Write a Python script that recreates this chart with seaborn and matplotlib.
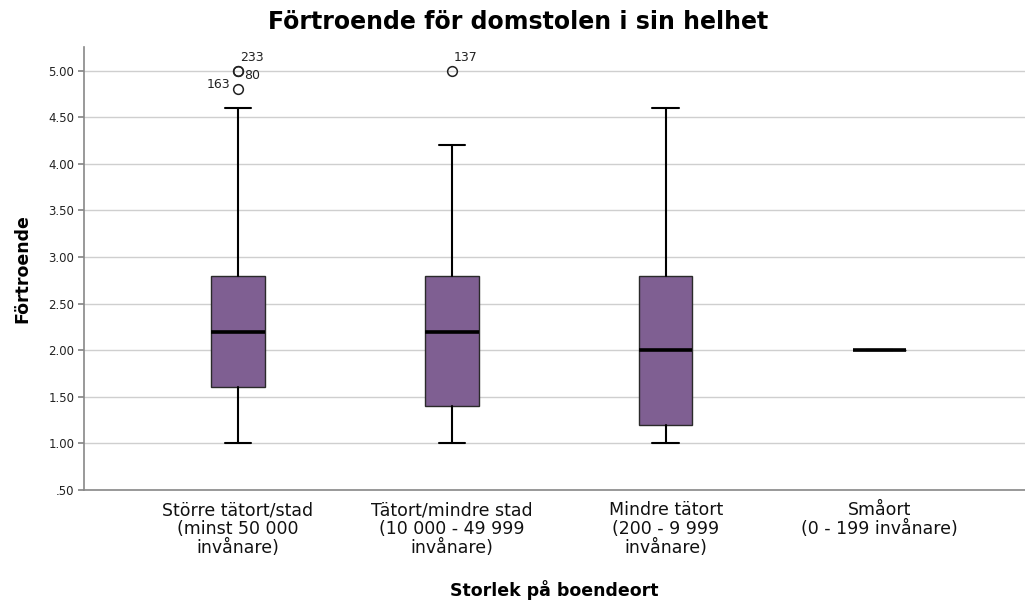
import matplotlib
matplotlib.use("Agg")
import matplotlib.pyplot as plt
import seaborn as sns
from matplotlib.ticker import FixedLocator, FixedFormatter

# Data: summary statistics
categories = [
    "Större tätort/stad\n(minst 50 000\ninvånare)",
    "Tätort/mindre stad\n(10 000 - 49 999\ninvånare)",
    "Mindre tätort\n(200 - 9 999\ninvånare)",
    "Småort\n(0 - 199 invånare)",
]
whisker_low = [1.0, 1.0, 1.0, 2.0]
q1 = [1.6, 1.4, 1.2, 2.0]
median = [2.2, 2.2, 2.0, 2.0]
q3 = [2.8, 2.8, 2.8, 2.0]
whisker_high = [4.6, 4.2, 4.6, 2.0]
outliers = [[4.8, 5.0, 5.0], [5.0], [], []]
outlier_ids = [["163", "80", "233"], ["137"], [], []]

y_ticks = [0.5, 1.0, 1.5, 2.0, 2.5, 3.0, 3.5, 4.0, 4.5, 5.0]
y_tick_labels = [".50", "1.00", "1.50", "2.00", "2.50", "3.00", "3.50", "4.00", "4.50", "5.00"]

sns.set_theme(style="whitegrid")
plt.rcParams['font.family'] = ['DejaVu Sans']
plt.rcParams['text.color'] = 'black'
plt.rcParams['axes.labelcolor'] = 'black'

fig = plt.figure(figsize=(10.25, 6), dpi=100)
ax = fig.add_axes([0.082, 0.1833, 0.918, 0.738])

stats = []
for i in range(len(categories)):
    stats.append({
        "whislo": whisker_low[i], "q1": q1[i], "med": median[i],
        "q3": q3[i], "whishi": whisker_high[i], "fliers": outliers[i],
    })

ax.bxp(stats, positions=range(len(categories)), widths=0.25, patch_artist=True,
       boxprops=dict(facecolor="#7f5f92", edgecolor="#2a2a2a", linewidth=1),
       medianprops=dict(color="black", linewidth=2.6),
       whiskerprops=dict(color="black", linewidth=1.5),
       capprops=dict(color="black", linewidth=1.5),
       flierprops=dict(marker="o", markerfacecolor="none", markeredgecolor="#222222",
                       markersize=7, markeredgewidth=1.1))

# outlier case labels
offsets = {"163": (-0.145, 0.05), "80": (0.03, -0.05), "233": (0.01, 0.14), "137": (0.01, 0.14)}
for i, (vals, ids) in enumerate(zip(outliers, outlier_ids)):
    for v, lab in zip(vals, ids):
        dx, dy = offsets[lab]
        ax.text(i + dx, v + dy, lab, fontsize=9, color="#222222", va="center", ha="left")

ax.set_xlim(-0.72, 3.68)
ax.set_ylim(0.5, 5.25)
ax.yaxis.set_major_locator(FixedLocator(y_ticks))
ax.yaxis.set_major_formatter(FixedFormatter(y_tick_labels))
ax.set_xticks(range(len(categories)))
ax.set_xticklabels(categories, fontsize=12.5, linespacing=1.08, color="#111111")
ax.tick_params(axis="y", labelsize=8.5, colors="#222222", length=4, color="#888888", left=True, pad=3)
ax.tick_params(axis="x", length=0, pad=8)

ax.grid(axis="y", color="#cfcfcf", linewidth=1)
ax.grid(axis="x", visible=False)
sns.despine(ax=ax)
for s in ["left", "bottom"]:
    ax.spines[s].set_color("#888888")
    ax.spines[s].set_linewidth(1.2)

ax.set_xlabel("Storlek på boendeort", fontsize=12.5, fontweight="bold", labelpad=16)
ax.set_ylabel("Förtroende", fontsize=12.5, fontweight="bold", labelpad=12)
fig.suptitle("Förtroende för domstolen i sin helhet", fontsize=17, fontweight="bold", y=0.984, x=0.505)

fig.savefig("out.png", dpi=100)
